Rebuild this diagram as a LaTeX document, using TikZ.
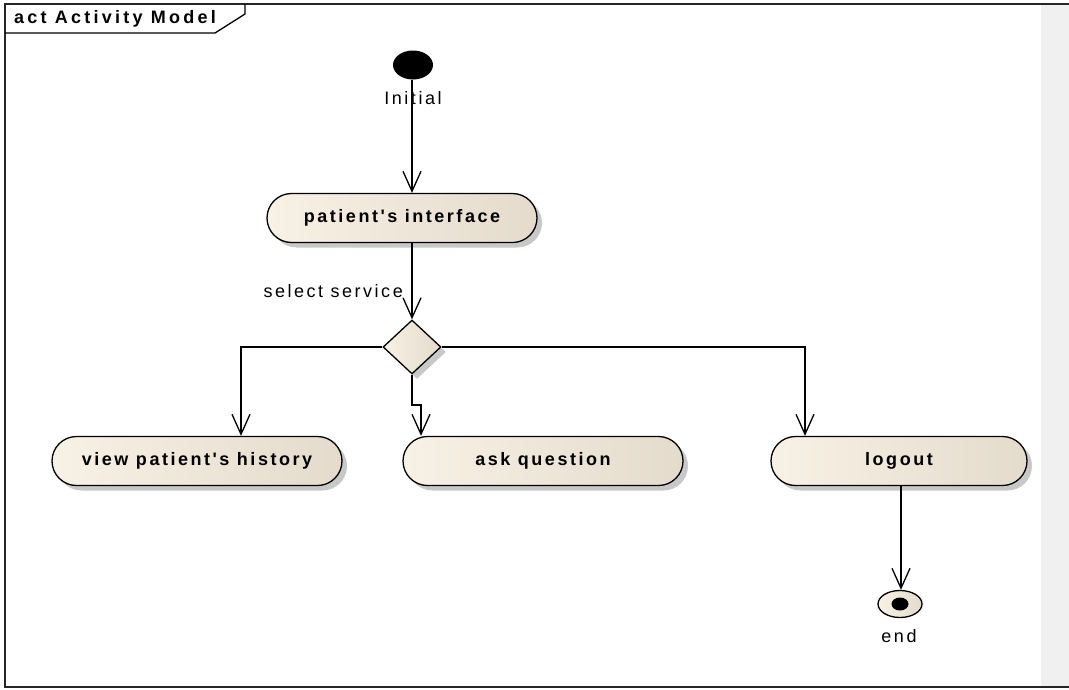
\documentclass[tikz,border=0pt]{standalone}
\usepackage{fontspec}
\setmainfont{Liberation Sans}
\newfontfamily\lblfont[LetterSpace=14]{Liberation Sans}
\newfontfamily\titlefont[LetterSpace=18]{Liberation Sans}
\usetikzlibrary{shapes.misc,shapes.geometric,shadows,arrows.meta}
\definecolor{actleft}{HTML}{F8F1E5}
\definecolor{actright}{HTML}{E4DBCC}
\definecolor{shadowgray}{HTML}{C8C8C8}
\definecolor{stripgray}{HTML}{F0F0F0}
\tikzset{
  action/.style={rounded rectangle, draw=black, line width=1.3pt,
    left color=actleft, right color=actright, minimum height=49pt,
    inner sep=0pt, font=\lblfont\bfseries\fontsize{18}{21}\selectfont,
    drop shadow={shadow xshift=5pt, shadow yshift=-5pt, fill=shadowgray, opacity=1}},
  decision/.style={diamond, draw=black, line width=1.3pt,
    left color=actleft, right color=actright, minimum width=58pt,
    minimum height=54pt, inner sep=0pt,
    drop shadow={shadow xshift=5pt, shadow yshift=-5pt, fill=shadowgray, opacity=1}},
  flow/.style={line width=1.3pt, -{Straight Barb[length=20pt,width=18pt,line width=1.3pt]}},
  plain/.style={font=\lblfont\fontsize{18}{21}\selectfont, inner sep=0pt}
}
\begin{document}
\begin{tikzpicture}[x=1pt,y=-1pt]
  \useasboundingbox (0,0) rectangle (1069,689);
  % grey margin strip on the right
  \fill[stripgray] (1041,5) rectangle (1069,687);
  % diagram frame and its name tab
  \draw[line width=2pt, black!85] (1069,4) -- (5,4) -- (5,687) -- (1069,687);
  \draw[line width=1.3pt] (5,33) -- (215,33) -- (245,14) -- (245,4);
  \node[anchor=west, font=\titlefont\bfseries\fontsize{18}{21}\selectfont, inner sep=0pt] (title) at (14,19) {act Activity Model};

  % initial node
  \node[ellipse, fill=black, minimum width=40pt, minimum height=29pt, inner sep=0pt] (init) at (413,65) {};
  \node[plain] (initlbl) at (413,98) {Initial};

  % actions
  \node[action, minimum width=270pt] (iface) at (402,218) {patient's interface};
  \node[decision] (dec) at (412,347) {};
  \node[action, minimum width=290pt] (hist) at (197,461) {view patient's history};
  \node[action, minimum width=280pt] (ask) at (543,461) {ask question};
  \node[action, minimum width=256pt] (logout) at (899,461) {logout};

  % final node
  \node[ellipse, draw=black, line width=1.3pt, left color=actleft, right color=actright,
        minimum width=44pt, minimum height=27pt, inner sep=0pt] (fin) at (900,604) {};
  \node[ellipse, fill=black, minimum width=17pt, minimum height=13pt, inner sep=0pt] (findot) at (900,604) {};
  \node[plain] (finlbl) at (899,636) {end};

  % control flows
  \draw[flow] (init.south -| iface.north) ++(10,0) coordinate (a0) -- (a0 |- iface.north);
  \draw[flow] (412,243) coordinate (b0) -- (dec.north);
  \node[plain, anchor=east] (sel) at (403,291) {select service};
  \draw[flow] (dec.west) -| (hist.north -| 241,0);
  \coordinate (m1) at (412,405);
  \draw[flow] (dec.south) -- (m1) -- ++(9,0) -- (ask.north -| 421,0);
  \draw[flow] (dec.east) -| (logout.north -| 805,0);
  \draw[flow] (logout.south -| 901,0) -- (fin.north -| 901,0);
\end{tikzpicture}
\end{document}
